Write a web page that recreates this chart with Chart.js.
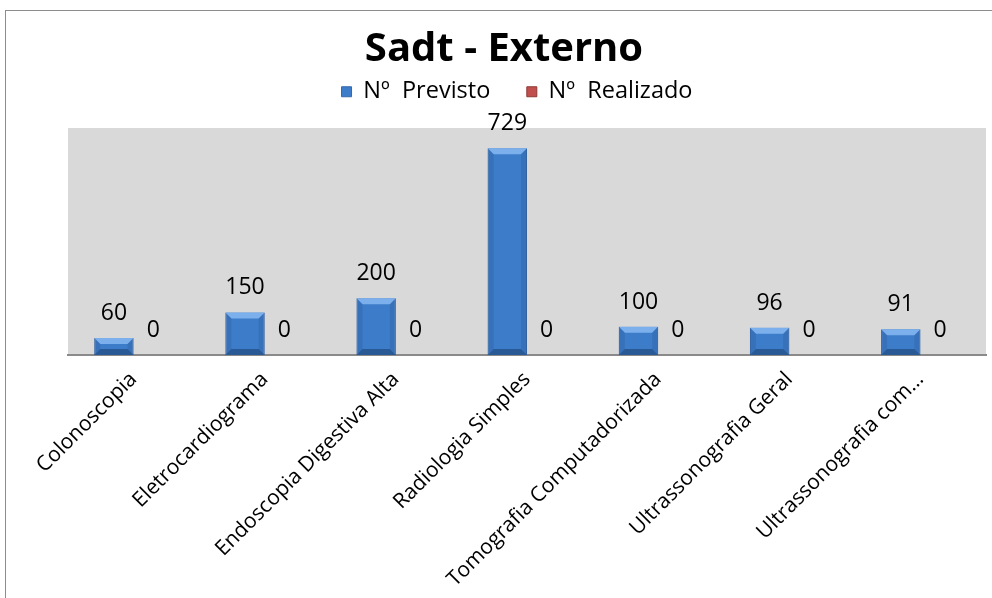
<!DOCTYPE html>
<html>
<head>
<meta charset="utf-8">
<script src="https://cdn.jsdelivr.net/npm/chart.js@4/dist/chart.umd.min.js"></script>
<style>
  html, body { margin: 0; padding: 0; background: #fff; overflow: hidden; }
  #frame { position: absolute; left: 5px; top: 10px; width: 1000px; height: 600px; border: 1px solid #8c8c8c; }
  #wrap { position: absolute; left: 0; top: 0; width: 992px; height: 598px; }
</style>
</head>
<body>
<div id="frame"></div>
<div id="wrap"><canvas id="c" width="992" height="598"></canvas></div>
<script>
const categories = ["Colonoscopia", "Eletrocardiograma", "Endoscopia Digestiva Alta", "Radiologia Simples", "Tomografia Computadorizada", "Ultrassonografia Geral", "Ultrassonografia com…"];
const previsto = [60, 150, 200, 729, 100, 96, 91];
const realizado = [0, 0, 0, 0, 0, 0, 0];
const seriesNames = ["Nº  Previsto", "Nº  Realizado"];
const yMax = 800;

const FONT = "'Open Sans'";

// gray plot background
const plotBg = {
  id: "plotBg",
  beforeDraw(chart) {
    const { ctx, chartArea: a } = chart;
    ctx.save();
    ctx.fillStyle = "#d9d9d9";
    ctx.fillRect(a.left, a.top, a.right - a.left, a.bottom - a.top);
    ctx.restore();
  }
};

// legend: fixed block height, title/legend nudged to where the original sits
const headerTweak = {
  id: "headerTweak",
  afterInit(chart) {
    const lg = chart.legend;
    const fit = lg.fit;
    lg.fit = function () {
      fit.call(this);
      this.height = 54;
    };
  },
  afterLayout(chart) {
    chart.titleBlock.left -= 23;
    chart.titleBlock.right -= 23;
    chart.legend.left -= 10;
    chart.legend.right -= 10;
  }
};

// excel-ish bevel on the bars
const bevel = {
  id: "bevel",
  afterDatasetsDraw(chart) {
    const ctx = chart.ctx;
    chart.data.datasets.forEach((ds, i) => {
      const meta = chart.getDatasetMeta(i);
      meta.data.forEach(bar => {
        const l = bar.x - bar.width / 2, r = bar.x + bar.width / 2;
        const t = Math.min(bar.y, bar.base), b = Math.max(bar.y, bar.base);
        const h = b - t;
        if (h < 1) return;
        const d = Math.min(6, h / 2, bar.width / 4);
        ctx.save();
        ctx.fillStyle = ds.bevelLight;
        ctx.beginPath();
        ctx.moveTo(l, t); ctx.lineTo(r, t); ctx.lineTo(r - d, t + d); ctx.lineTo(l + d, t + d); ctx.closePath();
        ctx.fill();
        ctx.fillStyle = ds.bevelDark;
        ctx.beginPath();
        ctx.moveTo(l, b); ctx.lineTo(r, b); ctx.lineTo(r - d, b - d); ctx.lineTo(l + d, b - d); ctx.closePath();
        ctx.fill();
        ctx.globalAlpha = 0.3;
        ctx.beginPath();
        ctx.moveTo(l, t); ctx.lineTo(l + d, t + d); ctx.lineTo(l + d, b - d); ctx.lineTo(l, b); ctx.closePath();
        ctx.fill();
        ctx.beginPath();
        ctx.moveTo(r, t); ctx.lineTo(r - d, t + d); ctx.lineTo(r - d, b - d); ctx.lineTo(r, b); ctx.closePath();
        ctx.fill();
        ctx.restore();
      });
    });
  }
};

// value labels above each bar
const valueLabels = {
  id: "valueLabels",
  afterDatasetsDraw(chart) {
    const ctx = chart.ctx;
    ctx.save();
    ctx.fillStyle = "#000";
    ctx.font = "23px " + FONT;
    ctx.textAlign = "center";
    ctx.textBaseline = "alphabetic";
    chart.data.datasets.forEach((ds, i) => {
      chart.getDatasetMeta(i).data.forEach((bar, j) => {
        ctx.fillText(String(ds.data[j]), bar.x, Math.min(bar.y, bar.base) - 18);
      });
    });
    ctx.restore();
  }
};

new Chart(document.getElementById("c").getContext("2d"), {
  type: "bar",
  data: {
    labels: categories,
    datasets: [
      {
        label: seriesNames[0],
        data: previsto,
        backgroundColor: "#3d7cc9",
        borderColor: "#3468ab",
        borderWidth: 1,
        bevelLight: "#7cb0ec",
        bevelDark: "#2a5a96",
        categoryPercentage: 0.6,
        barPercentage: 1.0
      },
      {
        label: seriesNames[1],
        data: realizado,
        backgroundColor: "#c0504d",
        borderColor: "#8c3836",
        borderWidth: 1,
        bevelLight: "#e08a88",
        bevelDark: "#8c3836",
        categoryPercentage: 0.6,
        barPercentage: 1.0
      }
    ]
  },
  options: {
    responsive: false,
    animation: false,
    layout: { padding: { left: 68, right: 6, top: 26, bottom: 0 } },
    plugins: {
      title: {
        display: true,
        text: "Sadt - Externo",
        color: "#000",
        font: { family: FONT, size: 40, weight: "bold" },
        padding: { top: 0, bottom: 0 }
      },
      legend: {
        labels: {
          color: "#000",
          font: { family: FONT, size: 23.5 },
          boxWidth: 10,
          boxHeight: 10,
          padding: 6,
          generateLabels(chart) {
            const items = Chart.defaults.plugins.legend.labels.generateLabels(chart);
            items.forEach((it, i) => { if (i < items.length - 1) it.text += "     "; });
            return items;
          }
        }
      },
      tooltip: { enabled: false }
    },
    scales: {
      x: {
        grid: { display: false, drawTicks: false },
        border: { color: "#8a8a8a", width: 2 },
        ticks: {
          color: "#000",
          font: { family: FONT, size: 21 },
          maxRotation: 45,
          minRotation: 45,
          autoSkip: false,
          padding: 12
        },
        afterFit(s) { s.height = 243; }
      },
      y: { display: false, min: 0, max: yMax }
    }
  },
  plugins: [plotBg, headerTweak, bevel, valueLabels]
});
</script>
</body>
</html>
